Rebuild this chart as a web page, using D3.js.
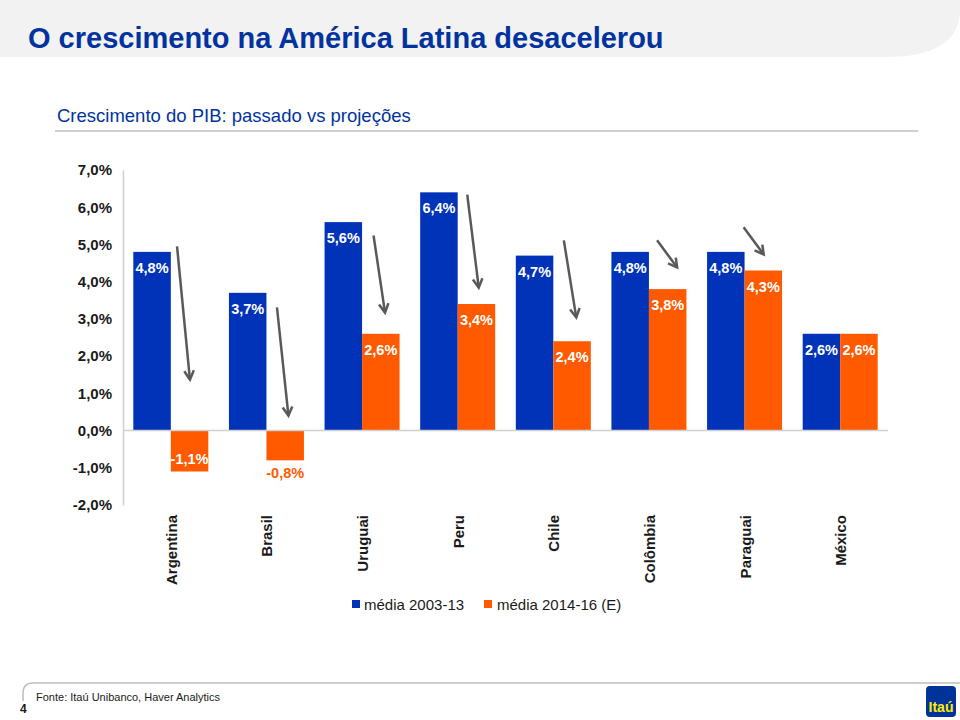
<!DOCTYPE html>
<html><head><meta charset="utf-8">
<script src="https://cdn.jsdelivr.net/npm/d3@7"></script>
<style>body{margin:0;background:#fff;font-family:"Liberation Sans",Arial,sans-serif}</style>
</head><body><svg id="c" width="960" height="720"></svg>
<script>
const categories = ["Argentina","Brasil","Uruguai","Peru","Chile","Colômbia","Paraguai","México"];
const seriesNames = ["média 2003-13","média 2014-16 (E)"];
const avg2003_13 = [4.8, 3.7, 5.6, 6.4, 4.7, 4.8, 4.8, 2.6];
const avg2014_16 = [-1.1, -0.8, 2.6, 3.4, 2.4, 3.8, 4.3, 2.6];
const yTicks = [7,6,5,4,3,2,1,0,-1,-2];
// arrows: [category, startFrac, startValue, endFrac, endValue] (fractions of band step)
const arrows = [
  ["Argentina",0.565,4.95,0.70,1.37],
  ["Brasil",0.61,3.31,0.73,0.40],
  ["Uruguai",0.62,5.24,0.74,3.17],
  ["Peru",0.60,6.34,0.72,3.84],
  ["Chile",0.61,5.11,0.74,3.04],
  ["Colômbia",0.585,5.11,0.795,4.38],
  ["Paraguai",0.49,5.46,0.70,4.73]
];
const BLUE = "#0033b8", ORANGE = "#ff5a00", TITLE = "#0033a0";
const fmt = v => d3.format(".1f")(v).replace(".",",").replace("\u2212","-") + "%";

const svg = d3.select("#c");
// header
svg.append("path").attr("d","M0,0 H960 V12 Q958,57 885,57 H0 Z").attr("fill","#f2f2f2");
svg.append("text").attr("x",28).attr("y",48).attr("font-size",29).attr("font-weight","bold")
  .attr("fill",TITLE).text("O crescimento na América Latina desacelerou");
svg.append("text").attr("x",57).attr("y",122).attr("font-size",18.5).attr("fill",TITLE)
  .text("Crescimento do PIB: passado vs projeções");
svg.append("line").attr("x1",55).attr("x2",918).attr("y1",131).attr("y2",131).attr("stroke","#d0d0d0").attr("stroke-width",2);

const x = d3.scaleBand().domain(categories).range([123,888]).padding(0);
const xi = d3.scaleBand().domain([0,1]).range([0,x.bandwidth()]).paddingInner(0).paddingOuter(0.275);
const y = d3.scaleLinear().domain([-2,7]).range([505,170]);

// y axis
const yAxis = d3.axisLeft(y).tickValues(yTicks).tickSize(0).tickPadding(11).tickFormat(fmt);
const ga = svg.append("g").attr("transform","translate(123,0)").call(yAxis);
ga.select(".domain").attr("stroke","#d0d0d0").attr("stroke-width",1.5);
ga.selectAll("text").attr("font-size",15).attr("font-weight","bold").attr("fill","#1a1a1a")
  .attr("font-family","Liberation Sans, Arial, sans-serif");

// bars
const rows = categories.map((c,i)=>({c, v:[avg2003_13[i], avg2014_16[i]]}));
const g = svg.append("g");
rows.forEach(r=>{
  r.v.forEach((v,k)=>{
    const x0 = x(r.c)+xi(k), w = xi.bandwidth();
    g.append("rect").attr("x",x0).attr("width",w)
      .attr("y",y(Math.max(0,v))).attr("height",Math.abs(y(v)-y(0)))
      .attr("fill",k===0?BLUE:ORANGE);
    let ty, fill="#fff";
    if (v>=0) ty = y(v)+21;
    else if (Math.abs(y(v)-y(0))>35) ty = y(v)-8;
    else { ty = y(v)+18; fill = ORANGE; }
    g.append("text").attr("x",x0+w/2).attr("y",ty).attr("text-anchor","middle")
      .attr("font-size",14.5).attr("font-weight","bold").attr("fill",fill).text(fmt(v));
  });
});
// zero line
svg.append("line").attr("x1",123).attr("x2",888).attr("y1",y(0)).attr("y2",y(0)).attr("stroke","#d0d0d0").attr("stroke-width",1.5);

// arrows
arrows.forEach(a=>{
  const st = x.step();
  const x1 = x(a[0])+a[1]*st, y1 = y(a[2]), x2 = x(a[0])+a[3]*st, y2 = y(a[4]);
  svg.append("line").attr("x1",x1).attr("y1",y1).attr("x2",x2).attr("y2",y2)
    .attr("stroke","#595959").attr("stroke-width",2.5);
  const ang = Math.atan2(y2-y1,x2-x1), L=10, sp=0.5;
  const p1=[x2-L*Math.cos(ang-sp), y2-L*Math.sin(ang-sp)], p2=[x2-L*Math.cos(ang+sp), y2-L*Math.sin(ang+sp)];
  svg.append("path").attr("d",`M${p1}L${x2},${y2}L${p2}`).attr("fill","none")
    .attr("stroke","#595959").attr("stroke-width",2.5).attr("stroke-linejoin","miter");
});

// x labels
categories.forEach(c=>{
  svg.append("text").attr("transform",`translate(${x(c)+x.bandwidth()/2+6},515) rotate(-90)`)
    .attr("text-anchor","end").attr("font-size",15).attr("font-weight","bold").attr("fill","#1a1a1a").text(c);
});

// legend
const lg = svg.append("g");
[[352,364],[484,497]].forEach((p,i)=>{
  lg.append("rect").attr("x",p[0]).attr("y",600).attr("width",8).attr("height",8).attr("fill",i===0?BLUE:ORANGE);
  lg.append("text").attr("x",p[1]).attr("y",610).attr("font-size",15).attr("fill","#1a1a1a").text(seriesNames[i]);
});

// footer
svg.append("path").attr("d","M23,701 V693 Q23,683 33,683 H960").attr("fill","none").attr("stroke","#bdbdbd").attr("stroke-width",1.5);
svg.append("text").attr("x",36).attr("y",701).attr("font-size",11).attr("fill","#1a1a1a").text("Fonte: Itaú Unibanco, Haver Analytics");
svg.append("text").attr("x",20).attr("y",713).attr("font-size",12).attr("font-weight","bold").attr("fill","#1a1a1a").text("4");
svg.append("rect").attr("x",926).attr("y",686).attr("width",30).attr("height",31).attr("rx",4).attr("fill","#003399");
svg.append("text").attr("x",941).attr("y",712).attr("text-anchor","middle").attr("font-size",14).attr("font-weight","bold").attr("fill","#ffec00").text("Itaú");
</script></body></html>
